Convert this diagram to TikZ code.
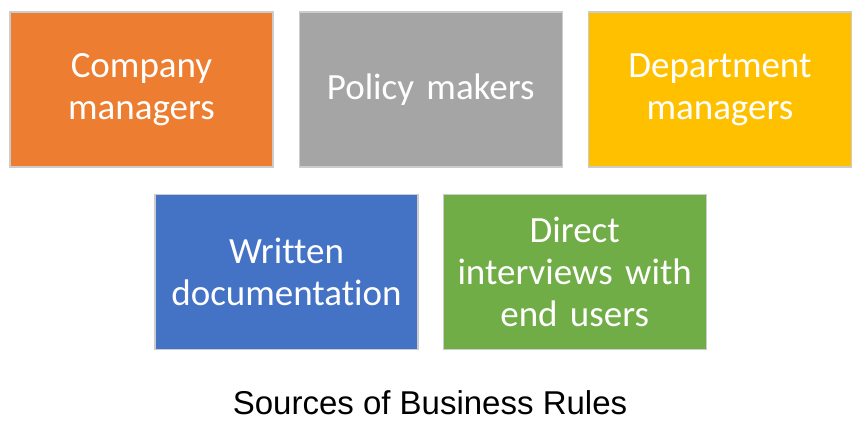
\documentclass[tikz,border=0pt]{standalone}
\usepackage{fontspec}
\setmainfont[Ligatures=NoCommon]{Carlito}
\newfontfamily\captionfont{Liberation Sans}
\usetikzlibrary{positioning}

\definecolor{srcorange}{HTML}{ED7D31}
\definecolor{srcgray}{HTML}{A5A5A5}
\definecolor{srcgold}{HTML}{FFC000}
\definecolor{srcblue}{HTML}{4472C4}
\definecolor{srcgreen}{HTML}{70AD47}

\begin{document}
\begin{tikzpicture}[x=1pt,y=1pt,node distance=25pt,
  src node/.style={rectangle,draw=black!20,line width=1.2pt,text=white,
  font=\fontsize{37}{42}\selectfont,minimum width=263pt,minimum height=155pt,
  text width=255pt,align=center,inner sep=0pt}]

  \useasboundingbox (0,0) rectangle (859,426);

  % top row
  \node[src node,fill=srcorange] (CM) at (141.5,336.5) {Company\\managers};
  \node[src node,fill=srcgray] (PM) [right=25pt of CM] {Policy makers};
  \node[src node,fill=srcgold] (DM) [right=25pt of PM] {Department\\managers};
  % bottom row
  \node[src node,fill=srcblue] (WD) [below=26pt of CM,xshift=145pt] {Written\\documentation};
  \node[src node,fill=srcgreen] (DI) [right=24pt of WD] {Direct\\interviews with\\end users};

  %caption
  \node[font=\captionfont\fontsize{33}{38}\selectfont] (SBR) at (430,23) {Sources of Business Rules};

\end{tikzpicture}
\end{document}
